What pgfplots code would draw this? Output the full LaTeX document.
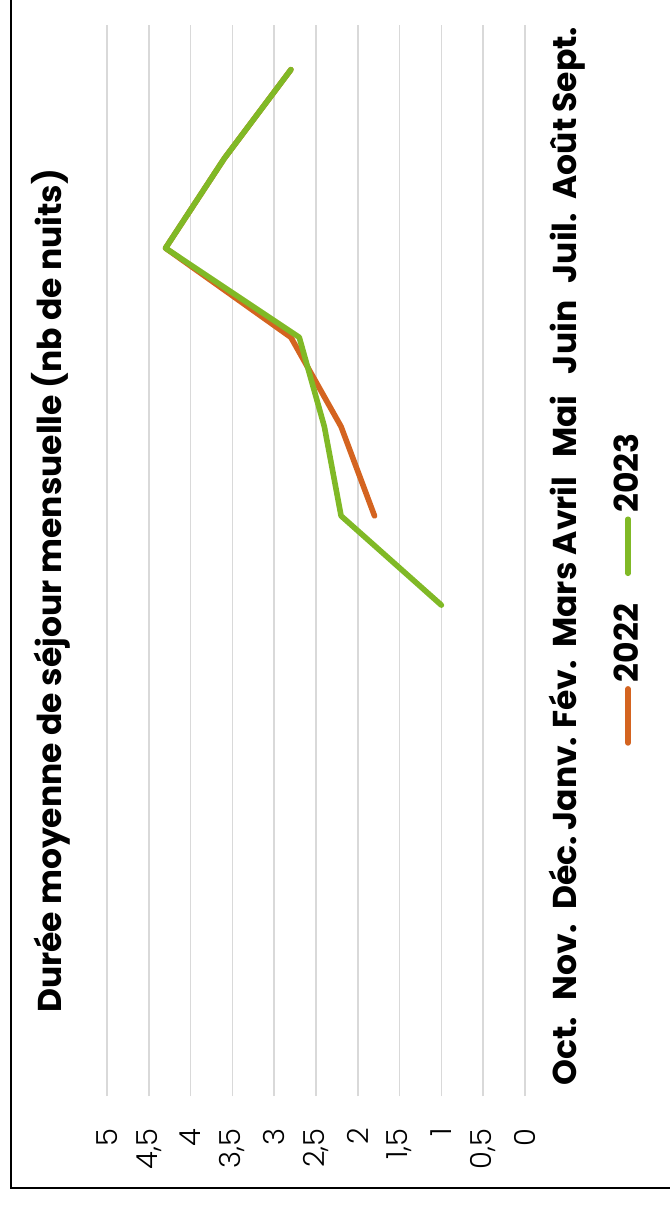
\documentclass[border=0pt]{standalone}
\usepackage{graphicx}
\usepackage{fontspec}
\setmainfont{Poppins}
\newfontfamily\lightfont{Poppins Light}
\usepackage{pgfplots}
\pgfplotsset{compat=1.18}

\definecolor{c2022}{RGB}{212,100,32}
\definecolor{c2023}{RGB}{128,185,38}
\definecolor{gridgray}{RGB}{217,217,217}

\begin{document}
\rotatebox{90}{%
\begin{tikzpicture}[x=0.5pt,y=0.5pt]
  \useasboundingbox (0,0) rectangle (1205,670);
  % frame (only left and top edges fall inside the picture)
  \draw[line width=0.85pt] (17,0) -- (17,659.3) -- (1205,659.3);
  \begin{axis}[
    at={(109pt*0.5,145pt*0.5)}, anchor=south west,
    scale only axis,
    width=535.5pt, height=209pt,
    xmin=-0.5, xmax=11.5,
    ymin=0, ymax=5,
    xtick={0,...,11},
    xticklabels={Oct.,Nov.,Déc.,Janv.,Fév.,Mars,Avril,Mai,Juin,Juil.,Août,Sept.},
    ytick={0,0.5,...,5},
    /pgf/number format/use comma,
    /pgf/number format/assume math mode=true,
    axis line style={draw=none},
    major tick length=0pt,
    ymajorgrids,
    grid style={gridgray, line width=0.75pt},
    xticklabel style={font=\fontsize{16.5}{18}\selectfont\bfseries, anchor=base, yshift=-26pt},
    yticklabel style={font=\fontsize{14.5}{16}\selectfont\lightfont, anchor=east, inner sep=0pt, xshift=-16pt},
    title={Durée moyenne de séjour mensuelle (nb de nuits)},
    title style={font=\fontsize{16.5}{18}\selectfont\bfseries, at={(0.4715,1)}, anchor=base, yshift=16.5pt},
    legend columns=2,
    legend style={at={(0.4748,-0.2464)}, anchor=center, draw=none,
      font=\fontsize{16.5}{18}\selectfont\bfseries,
      /tikz/every even column/.append style={column sep=12pt},
      cells={anchor=west, inner xsep=2.5pt}},
    legend image code/.code={\draw[#1, line cap=round] (0pt,0pt) -- (27pt,0pt);},
    every axis plot/.append style={line width=2.8pt, line join=round, line cap=round},
    clip=false,
  ]
    \addplot[c2022, mark=none] coordinates {
      (6,1.8) (7,2.2) (8,2.8) (9,4.3) (10,3.6) (11,2.8)
    };
    \addlegendentry{2022}
    \addplot[c2023, mark=none] coordinates {
      (5,1.0) (6,2.2) (7,2.4) (8,2.7) (9,4.3) (10,3.6) (11,2.8)
    };
    \addlegendentry{2023}
  \end{axis}
\end{tikzpicture}}
\end{document}
